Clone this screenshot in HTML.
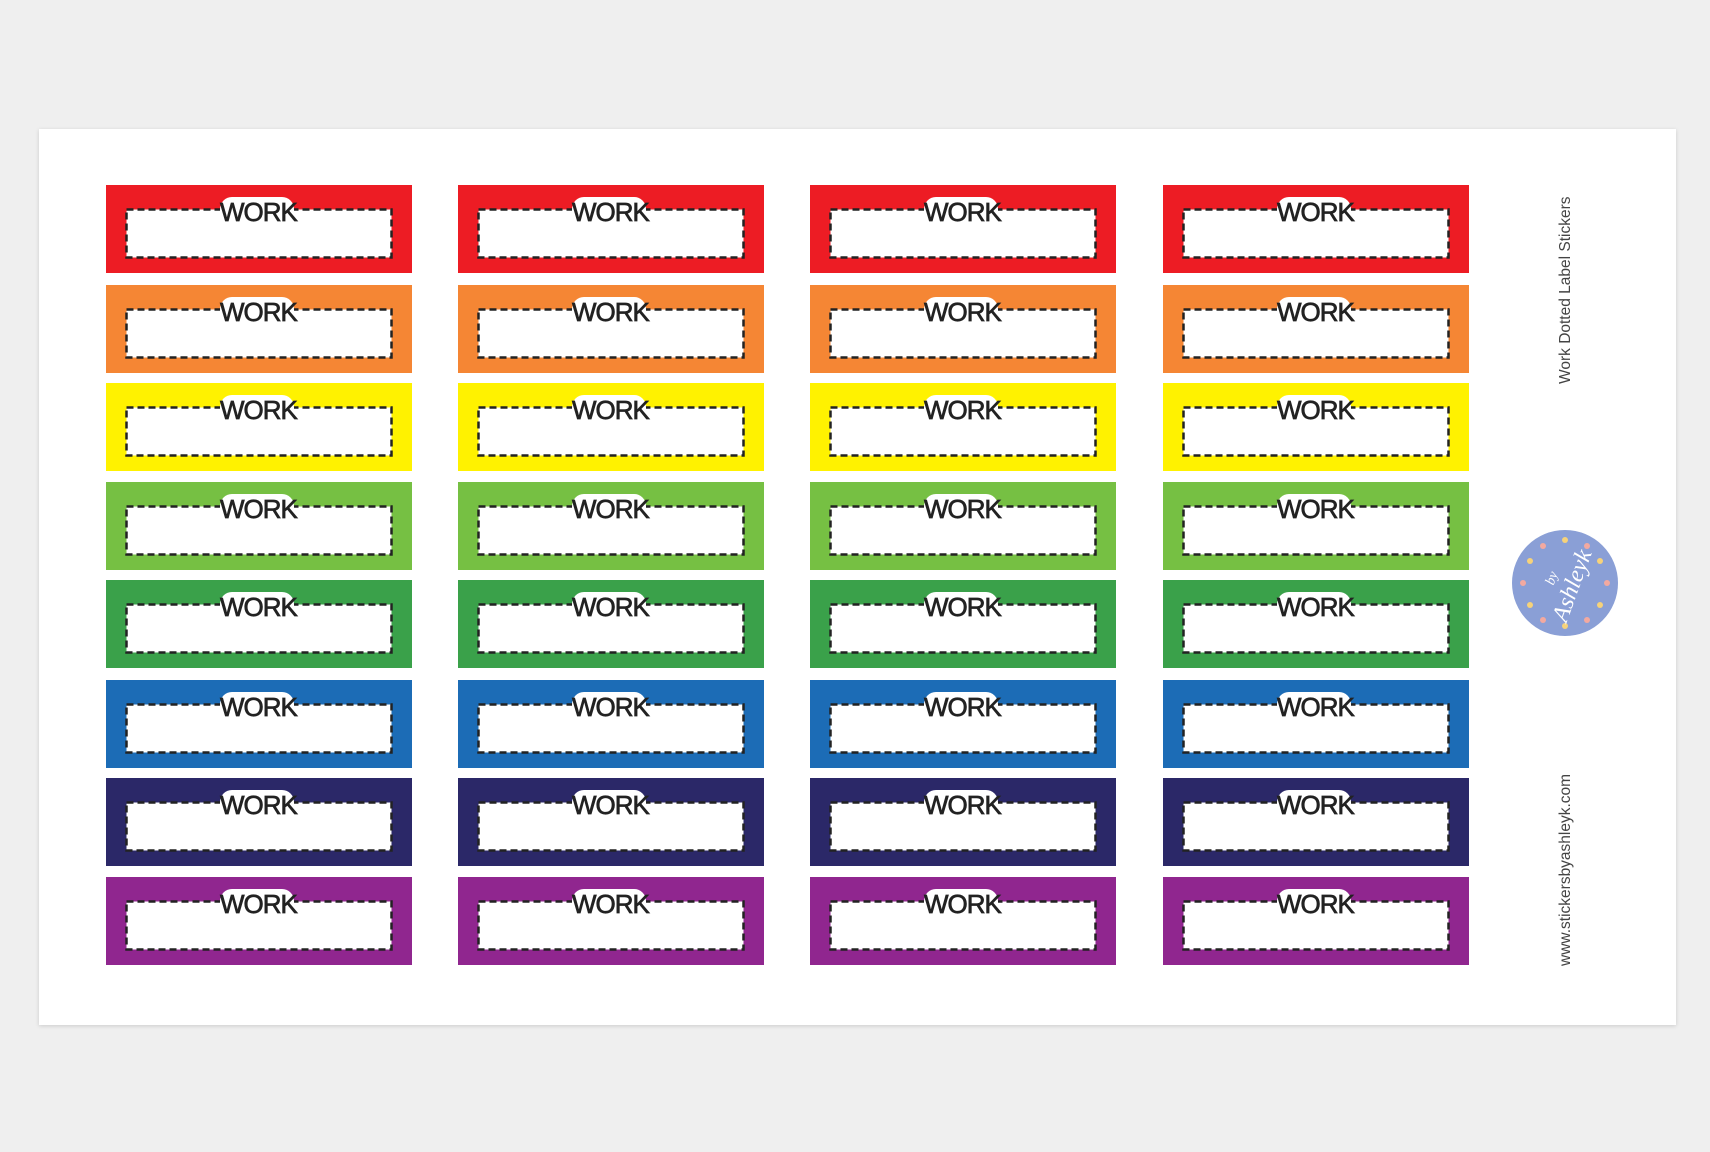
<!DOCTYPE html>
<html><head><style>
body{margin:0;width:1710px;height:1152px;background:#efefef;position:relative;overflow:hidden;font-family:"Liberation Sans",sans-serif}
.sheet{position:absolute;left:39px;top:129px;width:1637px;height:896px;background:#fff;box-shadow:0 1px 4px rgba(0,0,0,.15)}
.s{position:absolute;width:306px;height:88px}
.s svg{position:absolute;left:19px;top:23px}
.s .w{position:absolute;left:114px;top:12px;width:74px;height:30px;background:#fff;border-radius:12px;text-align:center;font:26px/30px "Liberation Sans",sans-serif;color:#222;letter-spacing:-1px;-webkit-text-stroke:0.7px #222}
.v{position:absolute;transform:rotate(-90deg);transform-origin:left top;font-size:15.5px;color:#444;white-space:nowrap}
</style></head><body>
<div class="sheet"></div>
<div id="c"></div>
<div class="v" style="left:1557px;top:384px">Work Dotted Label Stickers</div>
<div class="v" style="left:1557px;top:966px">www.stickersbyashleyk.com</div>
<svg style="position:absolute;left:1510px;top:528px" width="110" height="110">
<circle cx="55" cy="55" r="53" fill="#8a9fd6"/>
<g fill="#f6d27a"><circle cx="55" cy="12" r="3"/><circle cx="55" cy="98" r="3"/><circle cx="20" cy="33" r="3"/><circle cx="90" cy="33" r="3"/><circle cx="20" cy="77" r="3"/><circle cx="90" cy="77" r="3"/></g>
<g fill="#f3a9a0"><circle cx="33" cy="18" r="3"/><circle cx="77" cy="18" r="3"/><circle cx="13" cy="55" r="3"/><circle cx="97" cy="55" r="3"/><circle cx="33" cy="92" r="3"/><circle cx="77" cy="92" r="3"/></g>
<g transform="rotate(-70 55 55)" fill="#fff" font-family="Liberation Serif" font-style="italic" text-anchor="middle">
<text x="55" y="45" font-size="14">by</text>
<text x="55" y="70" font-size="24">Ashleyk</text></g>
</svg>
<script>
var cols=[106,458,810,1163],rows=[185,285,383,482,580,680,778,877],
cl=["#ed1c24","#f58634","#fff200","#76c043","#3aa14a","#1c6cb6","#2b2868","#90268f"],h="";
var sv='<svg width="268" height="51"><rect x="1.5" y="1.5" width="265" height="48" fill="#fff" stroke="#222" stroke-width="2.5" stroke-dasharray="7 4"/></svg>';
rows.forEach(function(y,i){cols.forEach(function(x){h+='<div class="s" style="left:'+x+'px;top:'+y+'px;background:'+cl[i]+'">'+sv+'<div class="w">WORK</div></div>';});});
document.getElementById("c").innerHTML=h;
</script>
</body></html>
